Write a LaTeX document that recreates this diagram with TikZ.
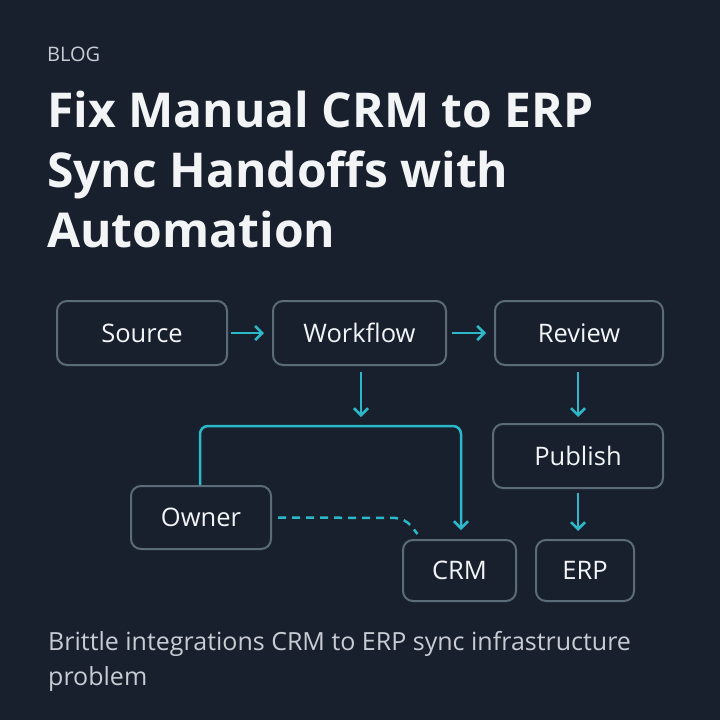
\documentclass[tikz,border=0pt]{standalone}
\usepackage{fontspec}
\setmainfont{Open Sans}
\usetikzlibrary{arrows.meta}
\definecolor{bg}{HTML}{18202E}
\definecolor{bx}{HTML}{5C6B78}
\definecolor{cy}{HTML}{2BB8C9}
\definecolor{tx}{HTML}{F2F4F6}
\definecolor{sub}{HTML}{C8CDD3}
\begin{document}
\begin{tikzpicture}[x=1pt,y=-1pt,
 box/.style={draw=bx,line width=2pt,rounded corners=10pt,fill=bg,text=tx,font=\fontsize{25.5}{28}\selectfont},
 arr/.style={draw=cy,line width=2.5pt,-{Straight Barb[length=7pt,width=14pt,line width=2.5pt]}}]
\fill[bg] (0,0) rectangle (720,720);
\useasboundingbox (0,0) rectangle (720,720);
\node[anchor=base west,text=sub,font=\fontsize{20}{22}\selectfont,inner sep=0] (blog) at (47,61) {BLOG};
\node[anchor=base west,text=tx,font=\fontsize{48}{60}\selectfont\bfseries,align=left,inner sep=0] (title) at (47,247)
 {Fix Manual CRM to ERP\\Sync Handoffs with\\Automation};
\node[anchor=base west,text=sub,font=\fontsize{25}{35}\selectfont,align=left,inner sep=0] (foot) at (48,685)
 {Brittle integrations CRM to ERP sync infrastructure\\problem};
\node[box,minimum width=170pt,minimum height=64pt] (src) at (142,333) {Source};
\node[box,minimum width=173pt,minimum height=64pt] (wf) at (359.5,333) {Workflow};
\node[box,minimum width=168pt,minimum height=64pt] (rv) at (579,333) {Review};
\node[box,minimum width=170pt,minimum height=64pt] (pb) at (578,456) {Publish};
\node[box,minimum width=140pt,minimum height=63pt] (ow) at (201,517.5) {Owner};
\node[box,minimum width=113pt,minimum height=61pt] (crm) at (459.5,570.5) {CRM};
\node[box,minimum width=98pt,minimum height=61pt] (erp) at (585,570.5) {ERP};
\draw[arr] ([xshift=3pt]src.east) -- ([xshift=-8pt]wf.west);
\draw[arr] ([xshift=5pt]wf.east) -- ([xshift=-8pt]rv.west);
\draw[arr] ([xshift=1.5pt,yshift=-6pt]wf.south) -- ([xshift=1.5pt,yshift=-51pt]wf.south);
\draw[arr] ([xshift=-1pt,yshift=-6pt]rv.south) -- ([xshift=-1pt,yshift=-51pt]rv.south);
\draw[arr] ([yshift=-4pt]pb.south) -- ([yshift=8pt]pb.south |- erp.north);
\draw[arr,rounded corners=8pt] (ow.north -| 200,0) -- (200,426) -- (461,426) -- ([xshift=1.5pt,yshift=9pt]crm.north);
\draw[cy,line width=2.5pt,dash pattern=on 8pt off 6pt,rounded corners=10pt] ([xshift=6pt]ow.east) -- (405,518) -- ([xshift=-42pt,yshift=5pt]crm.north);
\end{tikzpicture}
\end{document}
